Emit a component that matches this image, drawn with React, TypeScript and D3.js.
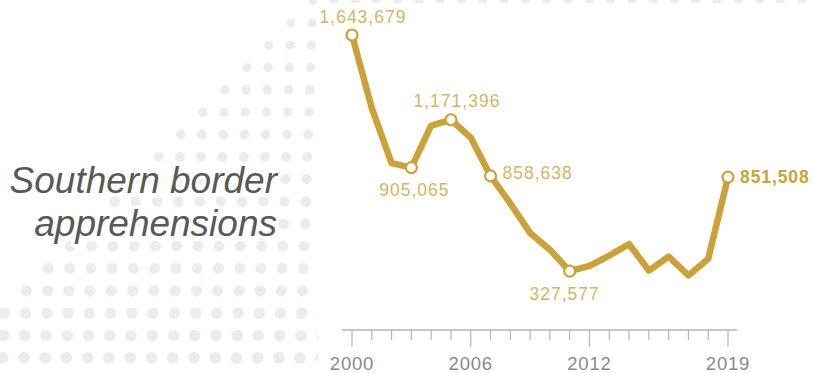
import React from "react";
import * as d3 from "d3";

const years = [2000, 2001, 2002, 2003, 2004, 2005, 2006, 2007, 2008, 2009, 2010, 2011, 2012, 2013, 2014, 2015, 2016, 2017, 2018, 2019];
const apprehensions = [1643679, 1235718, 929809, 905065, 1139282, 1171396, 1071972, 858638, 705005, 540865, 447731, 327577, 356873, 414397, 479371, 331333, 408870, 303916, 396579, 851508];
const labeledYears = [2000, 2003, 2005, 2007, 2011, 2019];
const tickLabelYears = [2000, 2006, 2012, 2019];
const titleLines = ["Southern border", "apprehensions"];

const W = 813;
const H = 373;
const GOLD = "#cba23a";
const LABEL_GOLD = "#d3b666";
const FONT = "'Liberation Sans', Arial, Helvetica, sans-serif";

// label placement relative to point: [dx, dy, anchor]
const placement: Record<number, [number, number, string]> = {
  2000: [11, -12.5, "middle"],
  2003: [3, 28, "middle"],
  2005: [6, -13, "middle"],
  2007: [12, 3.5, "start"],
  2011: [-5, 29, "middle"],
  2019: [12, 6, "start"],
};

export default function App() {
  const x = d3.scaleLinear().domain([2000, 2019]).range([352, 728]);
  const y = d3.scaleLinear().domain([0, 1643679]).range([330, 35]);
  const data = years.map((yr, i) => ({ year: yr, value: apprehensions[i] }));
  const line = d3
    .line<{ year: number; value: number }>()
    .x((d) => x(d.year))
    .y((d) => y(d.value));
  const fmt = d3.format(",");

  // dot pattern
  const dots: { cx: number; cy: number; r: number }[] = [];
  for (let r = 0; r <= 16; r++) {
    for (let c = -24; c <= 16; c++) {
      if (c > r) continue;
      const cx = 313 - 21.25 * c - 0.8 * r;
      const cy = 0.5 + 22.33 * r;
      if (cx < -8 || cx > W + 8) continue;
      dots.push({ cx, cy, r: 4.3 + 0.1 * r });
    }
  }

  const axisY = 330;
  return (
    <svg width={W} height={H} style={{ position: "absolute", left: 0, top: 0, background: "#fff" }}>
      <g>
        {dots.map((d, i) => (
          <circle key={i} cx={d.cx} cy={d.cy} r={d.r} fill="#ececec" />
        ))}
      </g>
      <rect x={318} y={3} width={W - 318} height={H} fill="#fff" />
      {/* title */}
      <g fontFamily={FONT} fontStyle="italic" fontSize={37} fill="#585858" textAnchor="end">
        {titleLines.map((t, i) => (
          <text
            key={i}
            x={277}
            y={193 + i * 43}
            stroke="#fff"
            strokeWidth={7}
            strokeLinejoin="round"
            style={{ paintOrder: "stroke" }}
          >
            {t}
          </text>
        ))}
      </g>
      {/* axis */}
      <g>
        <line x1={x(2000) - 10} x2={x(2019) + 9} y1={axisY} y2={axisY} stroke="#b5b5b5" strokeWidth={1.5} />
        {years.map((yr) => (
          <line
            key={yr}
            x1={x(yr)}
            x2={x(yr)}
            y1={axisY}
            y2={axisY + (tickLabelYears.includes(yr) ? 17 : 10)}
            stroke="#b5b5b5"
            strokeWidth={1.2}
          />
        ))}
        {tickLabelYears.map((yr) => (
          <text
            key={yr}
            x={x(yr)}
            y={370}
            textAnchor="middle"
            fontFamily={FONT}
            fontSize={18.5}
            letterSpacing={0.8}
            fill="#8a8a8a"
          >
            {yr}
          </text>
        ))}
      </g>
      {/* line */}
      <path d={line(data) || ""} fill="none" stroke={GOLD} strokeWidth={6.5} strokeLinejoin="round" strokeLinecap="round" />
      {data
        .filter((d) => labeledYears.includes(d.year))
        .map((d) => (
          <circle key={d.year} cx={x(d.year)} cy={y(d.value)} r={5.5} fill="#fff" stroke={GOLD} strokeWidth={2.2} />
        ))}
      {data
        .filter((d) => labeledYears.includes(d.year))
        .map((d) => {
          const [dx, dy, anchor] = placement[d.year];
          const last = d.year === 2019;
          return (
            <text
              key={d.year}
              x={x(d.year) + dx}
              y={y(d.value) + dy}
              textAnchor={anchor}
              fontFamily={FONT}
              fontSize={17.5}
              fontWeight={last ? "bold" : "normal"}
              letterSpacing={last ? 0.9 : 1}
              fill={last ? GOLD : LABEL_GOLD}
            >
              {fmt(d.value)}
            </text>
          );
        })}
    </svg>
  );
}
